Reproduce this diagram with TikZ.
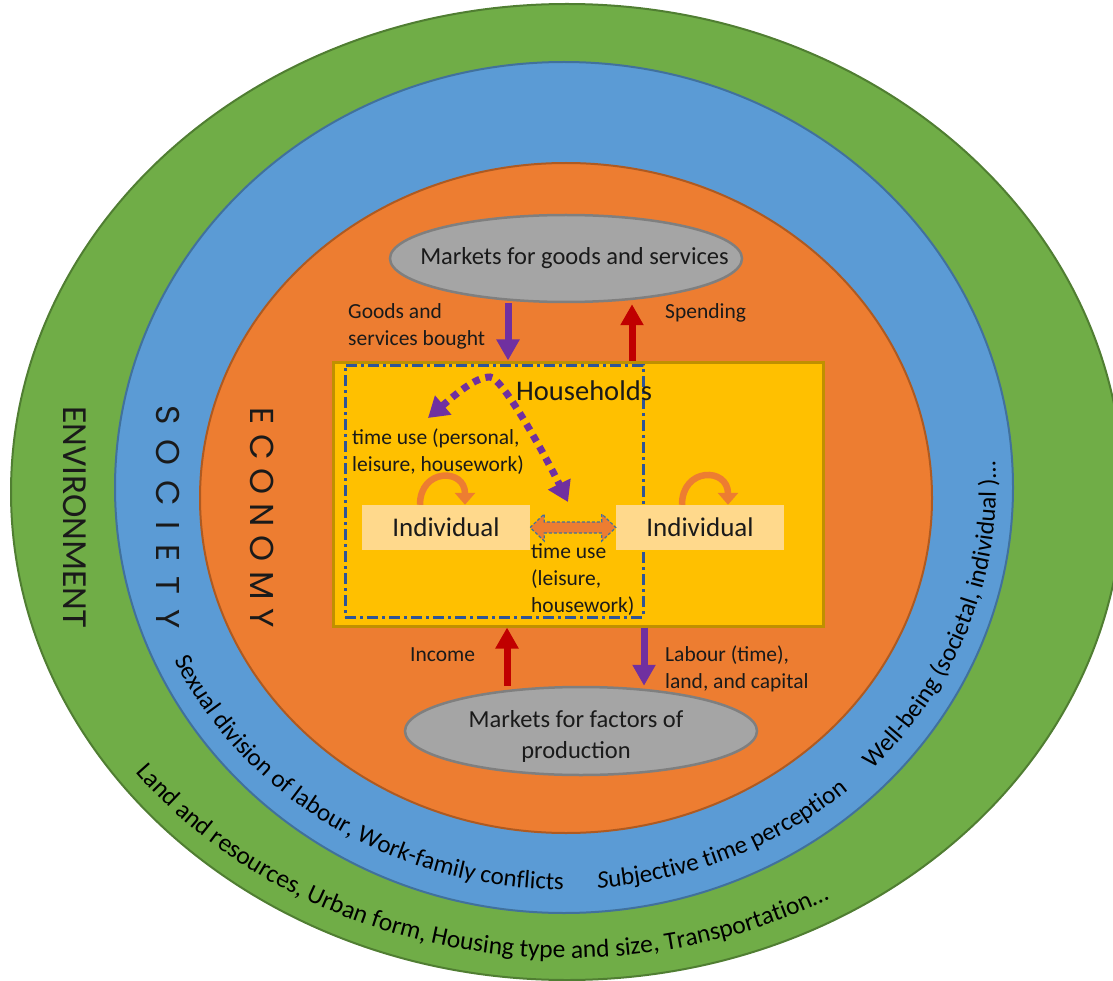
\documentclass[tikz,border=0pt]{standalone}
\usepackage{fontspec}
\usepackage{graphicx}
\setmainfont{Carlito}
\newfontfamily\geofont{Poppins}
\usetikzlibrary{arrows.meta,shapes.geometric,decorations.text,calc}
\definecolor{envgreen}{HTML}{70AD47}
\definecolor{envgreenD}{HTML}{507E32}
\definecolor{socblue}{HTML}{5B9BD5}
\definecolor{socblueD}{HTML}{41719C}
\definecolor{ecoorange}{HTML}{ED7D31}
\definecolor{ecoorangeD}{HTML}{AE5A21}
\definecolor{hhyellow}{HTML}{FFC000}
\definecolor{hhyellowD}{HTML}{BF9000}
\definecolor{mktgray}{HTML}{A5A5A5}
\definecolor{mktgrayD}{HTML}{7F7F7F}
\definecolor{indfill}{HTML}{FFD98C}
\definecolor{flowpurple}{HTML}{7030A0}
\definecolor{flowred}{HTML}{C00000}
\definecolor{dashblue}{HTML}{2F5597}
\definecolor{txt}{HTML}{1A1A1A}
\newcommand\ringfontB{\fontsize{25}{25}\selectfont}
\newcommand\ringfontG{\fontsize{25.5}{25.5}\selectfont}
\begin{document}
\begin{tikzpicture}[x=1pt,y=1pt,
  ring/.style={line width=2},
  mkt/.style={ellipse, fill=mktgray, draw=mktgrayD, line width=2.5, inner sep=0},
  mkttext/.style={font=\fontsize{24.5}{31}\selectfont, text=txt, align=center, inner sep=0},
  lbl/.style={font=\fontsize{21.5}{27}\selectfont, text=txt, align=left, inner sep=0, anchor=west},
  hhbox/.style={fill=hhyellow, draw=hhyellowD, line width=3, inner sep=0},
  hhdash/.style={draw=dashblue, line width=3, dash pattern=on 11pt off 4pt on 3pt off 4pt, inner sep=0},
  indbox/.style={fill=indfill, minimum width=168, minimum height=45, inner sep=0, text=txt, font=\fontsize{27}{27}\selectfont},
  flowP/.style={draw=flowpurple, line width=7, -{Triangle[width=22pt,length=21pt]}},
  flowR/.style={draw=flowred, line width=7, -{Triangle[width=22pt,length=21pt]}},
  tuarrow/.style={draw=flowpurple, line width=7, dash pattern=on 7pt off 6pt, {Triangle[width=24pt,length=20pt]}-{Triangle[width=24pt,length=20pt]}},
  selfloop/.style={draw=ecoorange, line width=6.5, -{Triangle[width=20pt,length=12pt]}},
  dblarrow/.style={fill=ecoorange, draw=socblueD, line width=1.2, dash pattern=on 3pt off 2pt},
  vlabel/.style={rotate=-90, text=txt, inner sep=0},
  ringtext/.style={decorate}
]
\useasboundingbox (0,0) rectangle (1113,-981);
% rings
\filldraw[ring, fill=envgreen, draw=envgreenD] (567,-492) ellipse [x radius=556, y radius=488];
\filldraw[ring, fill=socblue, draw=socblueD] (564,-487.5) ellipse [x radius=449, y radius=425.5];
\filldraw[ring, fill=ecoorange, draw=ecoorangeD] (566,-498) ellipse [x radius=366, y radius=335];
\coordinate (cB) at (564,-487.5);
\coordinate (cG) at (567,-492);
% curved texts
\path[ringtext, decoration={text along path, text={|\ringfontB|Sexual division of labour, Work-family conflicts}}]
  ($(cB)+(205.5:432 and 402)$) arc[start angle=205.5, end angle=274, x radius=432, y radius=402];
\path[ringtext, decoration={text along path, text={|\ringfontB\itshape|S|\ringfontB|ubjective time perception}}]
  ($(cB)+(274.5:432 and 402)$) arc[start angle=274.5, end angle=314, x radius=432, y radius=402];
\path[ringtext, decoration={text along path, text={|\ringfontB|Well-being (societal, individual )…}}]
  ($(cB)+(315.5:432 and 402)$) arc[start angle=315.5, end angle=370, x radius=432, y radius=402];
\path[ringtext, decoration={text along path, text={|\ringfontG|Land and resources, Urban form, Housing type and size, Transportation…}}]
  ($(cG)+(217:540 and 466)$) arc[start angle=217, end angle=308, x radius=540, y radius=466];
% vertical labels
\node[vlabel] (envlbl) at (75,-517) {\resizebox{221pt}{!}{\fontsize{35}{35}\selectfont ENVIRONMENT}};
\node[vlabel] (soclbl) at (168,-517) {\resizebox{223pt}{!}{\geofont\fontsize{33}{33}\selectfont S\kern15pt O\kern15pt C\kern15pt I\kern15pt E\kern15pt T\kern15pt Y}};
\node[vlabel] (ecolbl) at (262,-518) {\resizebox{220pt}{!}{\geofont\fontsize{33}{33}\selectfont E\kern9pt C\kern9pt O\kern9pt N\kern9pt O\kern9pt M\kern9pt Y}};
% markets
\node[mkt, minimum width=352, minimum height=87] (mktG) at (566,-258.5) {};
\node[mkttext] (mktGt) at (574.5,-258) {Markets for goods and services};
\node[mkt, minimum width=352, minimum height=88] (mktF) at (581,-731) {};
\node[mkttext] (mktFt) at (576,-736) {Markets for factors of\\production};
% households
\node[hhbox, minimum width=490, minimum height=264] (hh) at (578,-494) {};
\node[hhdash, minimum width=298, minimum height=252] (hhd) at (494,-491) {};
\node[lbl, font=\fontsize{28.5}{28.5}\selectfont] (hhlbl) at (516,-391) {Households};
% individuals
\node[indbox] (ind1) at (446,-527.5) {Individual};
\node[indbox] (ind2) at (700,-527.5) {Individual};
\path[dblarrow] (ind1.east) -- ++(14,13.5) -- ++(0,-8) -- ($(ind2.west)+(-14,5.5)$) -- ++(0,8) -- (ind2.west)
  -- ++(-14,-13.5) -- ++(0,8) -- ($(ind1.east)+(14,-5.5)$) -- ++(0,-8) -- cycle;
\draw[selfloop] ([xshift=-26pt]ind1.north) to[out=90,in=90,looseness=2.1] ([xshift=19pt]ind1.north);
\draw[selfloop] ([xshift=-18pt]ind2.north) to[out=90,in=90,looseness=2.1] ([xshift=28pt]ind2.north);
% time use labels
\node[lbl] (tu1) at (352,-451.5) {time use (personal,\\leisure, housework)};
\node[lbl] (tu2) at (531,-579.5) {time use\\(leisure,\\housework)};
\coordinate (tuL) at (428,-418);
\coordinate (tuP) at (490,-377);
\coordinate (tuR) at (568,-502);
\draw[tuarrow] (tuL) .. controls (455,-395) and (475,-377) .. (tuP) .. controls (502,-377) and (545,-455) .. (tuR);
% flows
\coordinate (xGB) at (508,0);
\coordinate (xSP) at (632,0);
\coordinate (xIN) at (507,0);
\coordinate (xLB) at (644,0);
\draw[flowP] (xGB |- mktG.south) -- (xGB |- hh.north);
\draw[flowR] (xSP |- hh.north) -- ([yshift=-1pt]xSP |- mktG.south);
\draw[flowR] (xIN |- mktF.north) -- (xIN |- hh.south);
\draw[flowP] (xLB |- hh.south) -- (xLB |- mktF.north);
\node[lbl] (gsb) at (348,-326.5) {Goods and\\services bought};
\node[lbl] (spd) at (665,-313) {Spending};
\node[lbl] (inc) at (410,-655) {Income};
\node[lbl] (lab) at (665,-668.5) {Labour (time),\\land, and capital};
\end{tikzpicture}
\end{document}
